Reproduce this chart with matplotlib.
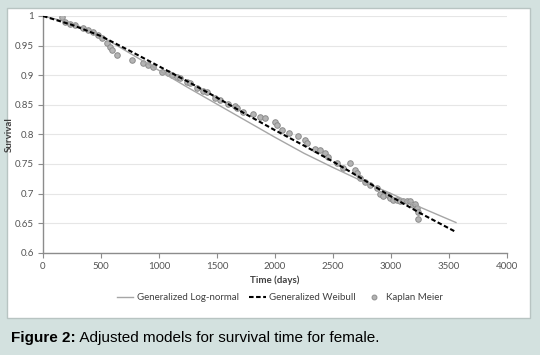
"""
Adjusted survival models for female patients (recreated chart).
"""
import matplotlib
matplotlib.use('Agg')
import matplotlib.pyplot as plt
from matplotlib.patches import Rectangle
from matplotlib.lines import Line2D

# Model curves (time in days, survival probability).
model_time = [0, 250, 500, 750, 1000, 1250, 1500, 1750, 2000, 2250, 2500, 2750, 3000, 3250, 3560]
lognormal = [1.000, 0.988, 0.966, 0.937, 0.908, 0.879, 0.851, 0.823, 0.795, 0.768, 0.744, 0.721, 0.700, 0.677, 0.651]
weibull = [1.000, 0.985, 0.966, 0.941, 0.915, 0.889, 0.862, 0.834, 0.807, 0.781, 0.754, 0.725, 0.695, 0.667, 0.635]

# Kaplan Meier estimates.
km_time = [161, 190, 233, 276, 347, 390, 434, 477, 506, 549, 578, 592, 635,
           764, 865, 908, 951, 1023, 1080, 1109, 1152, 1181, 1239, 1267,
           1325, 1382, 1411, 1483, 1526, 1598, 1655, 1670, 1727, 1813, 1871,
           1914, 2000, 2014, 2057, 2124, 2201, 2259, 2273, 2345, 2388, 2431,
           2460, 2532, 2589, 2647, 2690, 2704, 2733, 2776, 2819, 2876, 2905,
           2934, 2977, 2991, 3020, 3049, 3078, 3106, 3135, 3164, 3193, 3207,
           3221, 3236, 3236]
km_surv = [0.999, 0.990, 0.987, 0.984, 0.979, 0.976, 0.973, 0.968, 0.962, 0.954,
           0.948, 0.942, 0.934, 0.925, 0.920, 0.917, 0.914, 0.906, 0.903, 0.900,
           0.897, 0.895, 0.889, 0.886, 0.878, 0.874, 0.872, 0.862, 0.858, 0.851,
           0.848, 0.844, 0.838, 0.834, 0.830, 0.827, 0.821, 0.816, 0.807, 0.803,
           0.797, 0.790, 0.785, 0.776, 0.773, 0.768, 0.762, 0.751, 0.743, 0.751,
           0.740, 0.734, 0.726, 0.720, 0.714, 0.709, 0.700, 0.695, 0.697, 0.692,
           0.689, 0.689, 0.688, 0.688, 0.688, 0.688, 0.681, 0.682, 0.675, 0.668,
           0.657]

x_ticks = [0, 500, 1000, 1500, 2000, 2500, 3000, 3500, 4000]
y_ticks = [0.6, 0.65, 0.7, 0.75, 0.8, 0.85, 0.9, 0.95, 1.0]
y_labels = ['0.6', '0.65', '0.7', '0.75', '0.8', '0.85', '0.9', '0.95', '1']

plt.rcParams['font.family'] = ['Lato', 'DejaVu Sans']

# Figure with the page background and the white chart panel.
fig = plt.figure(figsize=(5.4, 3.55), dpi=100, facecolor='#d3e1df')
fig.patches.append(Rectangle((7 / 540, 1 - 318 / 355), 523 / 540, 310 / 355,
                             transform=fig.transFigure, facecolor='white',
                             edgecolor='#b8c4c2', linewidth=1.0, zorder=-10))

ax = fig.add_axes([43 / 540, 1 - 252.7 / 355, 464 / 540, 236.7 / 355])
ax.set_facecolor('none')
ax.set_zorder(5)

# Kaplan Meier points under the model curves.
ax.scatter(km_time, km_surv, s=16, facecolor='#b4b4b4', edgecolor='#8c8c8c',
           linewidth=0.7, zorder=2)
ax.plot(model_time, lognormal, color='#a6a6a6', linewidth=1.0, zorder=3)
ax.plot(model_time, weibull, color='black', linewidth=1.5,
        linestyle=(0, (2.2, 1.2)), zorder=4)

ax.set_xlim(0, 4000)
ax.set_ylim(0.6, 1.0)
ax.set_xticks(x_ticks)
ax.set_yticks(y_ticks)
ax.set_yticklabels(y_labels)
ax.grid(axis='y', color='#e6e6e6', linewidth=0.8)
ax.set_axisbelow(True)
for side in ['top', 'right']:
  ax.spines[side].set_visible(False)
for side in ['left', 'bottom']:
  ax.spines[side].set_color('#8c8c8c')
  ax.spines[side].set_linewidth(1.0)
ax.tick_params(axis='both', colors='#8c8c8c', labelcolor='#555555',
               labelsize=7, length=3.5, width=0.8)
ax.tick_params(axis='y', pad=3)
ax.tick_params(axis='x', pad=3)

ax.set_xlabel('Time (days)', fontsize=7, fontweight='bold', color='#404040')
ax.set_ylabel('Survival', fontsize=7, fontweight='bold', color='#404040')
ax.xaxis.set_label_coords(0.5, -23 / 236.7)
ax.yaxis.set_label_coords(-29 / 464, 0.5)

# Legend below the axis title.
handles = [
  Line2D([], [], color='#a6a6a6', linewidth=1.0),
  Line2D([], [], color='black', linewidth=1.5, linestyle=(0, (2.2, 1.2))),
  Line2D([], [], color='none', marker='o', markersize=3.5,
         markerfacecolor='#b4b4b4', markeredgecolor='#8c8c8c', markeredgewidth=0.7),
]
fig.legend(handles, ['Generalized Log-normal', 'Generalized Weibull', 'Kaplan Meier'],
           loc='center', bbox_to_anchor=(280 / 540, 1 - 298 / 355), ncol=3,
           frameon=False, fontsize=7, handlelength=1.7, columnspacing=1.0,
           handletextpad=0.4, labelcolor='#404040')

# Caption under the panel.
t1 = fig.text(11 / 540, 1 - 338 / 355, 'Figure 2:', fontsize=11, fontweight='bold',
              family='Liberation Sans', va='center', ha='left', color='black')
ax.annotate(' Adjusted models for survival time for female.', xy=(1, 0.5),
            xycoords=t1, va='center', ha='left', fontsize=11,
            family='Liberation Sans', color='black', annotation_clip=False)

fig.savefig('out.png', dpi=100, facecolor=fig.get_facecolor())
plt.close(fig)
